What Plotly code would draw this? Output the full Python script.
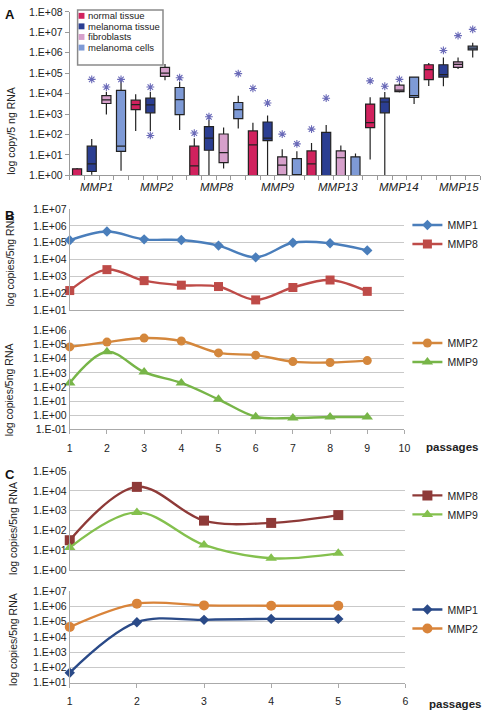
import plotly.graph_objects as go

W, H = 488, 716

# ---------------- Panel A data (box stats per series, categories in order) -------------
categories = ["MMP1", "MMP2", "MMP8", "MMP9", "MMP13", "MMP14", "MMP15"]
series_names = ["normal tissue", "melanoma tissue", "fibroblasts", "melanoma cells"]
series_colors = ["#d1225e", "#2b3e92", "#d6a0cb", "#7e9ad6"]

normal_q1 = [0.3, 1660, 0.3, 0.3, 0.3, 220, 4.9e4]
normal_median = [0.6, 2900, 2.9, 31, 3.7, 380, 1.5e5]
normal_q3 = [2.1, 4800, 27, 150, 15.7, 3100, 2.6e5]
normal_lower = [0.2, 147, 0.2, 0.2, 0.2, 6, 2.4e4]
normal_upper = [2.3, 9300, 66, 380, 38, 6700, 3.2e5]
normal_star = [None, None, 118, 1.8e4, 183, 4.2e4, None]

mtissue_q1 = [1.55, 1150, 17, 50, 0.3, 1150, 6.5e4]
mtissue_median = [3.7, 2800, 66, 66, 0.5, 3900, 8.5e4]
mtissue_q3 = [27, 6000, 246, 410, 127, 6000, 2.6e5]
mtissue_lower = [1.07, 150, 1.03, 1.0, 0.2, 1.0, 2.3e4]
mtissue_upper = [60, 1.25e4, 550, 860, 295, 1.2e4, 5.9e5]
mtissue_star = [5e4, 2.1e4, 740, 3500, 6000, 2.3e4, 1.3e6]
mtissue_star_low = [None, 90, None, None, None, None, None]

fibro_q1 = [3300, 7e4, 4.2, 1.07, 0.3, 1.25e4, 1.95e5]
fibro_median = [5000, 1e5, 13, 3.2, 7.3, 1.5e4, 2.7e5]
fibro_q3 = [7950, 1.95e5, 106, 8.1, 15.7, 2.6e4, 3.6e5]
fibro_lower = [950, 4.5e4, 2.2, 0.5, 0.2, 1.15e4, 1.6e5]
fibro_upper = [1.25e4, 2.8e5, 220, 19, 29, 3.2e4, 5.9e5]
fibro_star = [2.1e4, None, None, 105, None, 5e4, 6.9e6]

mcells_q1 = [15, 950, 600, 0.98, 0.3, 6500, 1.38e6]
mcells_median = [27, 5100, 1650, 1.0, 0.5, 8000, 1.7e6]
mcells_q3 = [1.45e4, 2e4, 3700, 6.7, 8.1, 6.5e4, 2.1e6]
mcells_lower = [1.7, 165, 200, 0.9, 0.2, 3100, 5.9e5]
mcells_upper = [4.2e4, 3.7e4, 8000, 15, 11.7, 6.7e4, 3.1e6]
mcells_star = [5e4, 6e4, 9.5e4, 35, None, None, 1.4e7]

# ---------------- Panel B data ----------------
passages_B = [1, 2, 3, 4, 5, 6, 7, 8, 9]
B_MMP1 = [1.4e5, 4.7e5, 1.6e5, 1.45e5, 6.8e4, 1.35e4, 1.0e5, 9.3e4, 3.5e4]
B_MMP8 = [141, 2500, 550, 295, 245, 39, 214, 600, 126]
B_MMP2 = [6.9e4, 1.5e5, 2.9e5, 1.8e5, 2.6e4, 1.8e4, 6300, 5400, 7400]
B_MMP9 = [195, 3.1e4, 1150, 195, 13.5, 0.8, 0.65, 0.76, 0.76]

# ---------------- Panel C data ----------------
passages_C = [1, 2, 3, 4, 5]
C_MMP8 = [33, 1.6e4, 320, 245, 610]
C_MMP9 = [14, 830, 19, 4.1, 7.2]
C_MMP1 = [45, 9.1e4, 1.3e5, 1.5e5, 1.5e5]
C_MMP2 = [4.4e4, 1.5e6, 1.15e6, 1.1e6, 1.1e6]


def px(p):
    return p / W


def py(p):
    return 1 - p / H


def log_ticks(lo, hi):
    vals = [10.0 ** k for k in range(lo, hi + 1)]
    text = ["1.E%s%02d" % ("+" if k >= 0 else "-", abs(k)) for k in range(lo, hi + 1)]
    return vals, text


FONT = "Liberation Sans, Arial, sans-serif"
TICKFONT = dict(family=FONT, size=10.5, color="#222")
GRID = "#c9c9c9"

fig = go.Figure()

# ---------------- Panel A boxes ----------------
box_stats = [
    (normal_q1, normal_median, normal_q3, normal_lower, normal_upper, normal_star),
    (mtissue_q1, mtissue_median, mtissue_q3, mtissue_lower, mtissue_upper, mtissue_star),
    (fibro_q1, fibro_median, fibro_q3, fibro_lower, fibro_upper, fibro_star),
    (mcells_q1, mcells_median, mcells_q3, mcells_lower, mcells_upper, mcells_star),
]
STAR = dict(symbol="asterisk-open", size=6.5, color="#6a6ab8",
            line=dict(color="#6a6ab8", width=1.1))
slot = 0.25
for j, (q1, med, q3, lo, hi, star) in enumerate(box_stats):
    pos = [i + (j - 1.5) * slot for i in range(len(categories))]
    fig.add_trace(go.Box(
        x=pos, q1=q1, median=med, q3=q3, lowerfence=lo, upperfence=hi,
        width=0.155, whiskerwidth=0, fillcolor=series_colors[j],
        line=dict(color="#222", width=1.2), name=series_names[j],
        showlegend=False, xaxis="x", yaxis="y", hoverinfo="skip",
    ))
    fig.add_trace(go.Scatter(
        x=pos, y=star, mode="markers", showlegend=False, xaxis="x", yaxis="y",
        marker=STAR, hoverinfo="skip",
    ))
    if j == 1:
        fig.add_trace(go.Scatter(
            x=pos, y=mtissue_star_low, mode="markers", showlegend=False,
            xaxis="x", yaxis="y", marker=STAR, hoverinfo="skip",
        ))


# ---------------- line traces ----------------
def line_trace(xs, ys, name, color, symbol, size, ax, legend, width=2.4):
    return go.Scatter(
        x=xs, y=ys, name=name, mode="lines+markers", xaxis="x" + ax, yaxis="y" + ax,
        line=dict(color=color, width=width, shape="spline", smoothing=1),
        marker=dict(symbol=symbol, size=size, color=color),
        legend=legend, cliponaxis=False, hoverinfo="skip",
    )


fig.add_trace(line_trace(passages_B, B_MMP1, "MMP1", "#4a7ebb", "diamond", 8, "2", "legend2"))
fig.add_trace(line_trace(passages_B, B_MMP8, "MMP8", "#be4b48", "square", 9, "2", "legend2"))
fig.add_trace(line_trace(passages_B, B_MMP2, "MMP2", "#d4873c", "circle", 9, "3", "legend3"))
fig.add_trace(line_trace(passages_B, B_MMP9, "MMP9", "#77b548", "triangle-up", 10, "3", "legend3"))
fig.add_trace(line_trace(passages_C, C_MMP8, "MMP8", "#8e3a38", "square", 10, "4", "legend4"))
fig.add_trace(line_trace(passages_C, C_MMP9, "MMP9", "#84c04e", "triangle-up", 10, "4", "legend4"))
fig.add_trace(line_trace(passages_C, C_MMP1, "MMP1", "#2a4a88", "diamond", 8, "5", "legend5"))
fig.add_trace(line_trace(passages_C, C_MMP2, "MMP2", "#d9843a", "circle", 10, "5", "legend5"))

# ---------------- axes ----------------
tvA, ttA = log_ticks(0, 8)
fig.update_layout(
    xaxis=dict(domain=[px(68), px(486)], range=[-0.5, 6.5], anchor="y",
               tickmode="array", tickvals=[-0.5 + 0.25 * k for k in range(29)],
               ticktext=[""] * 29, ticks="outside", ticklen=4, tickcolor="#999",
               showline=True, linecolor="#999", showgrid=False, zeroline=False),
    yaxis=dict(domain=[py(172.3), py(6)], type="log", range=[0, 8], anchor="x",
               tickmode="array", tickvals=tvA, ticktext=ttA, tickfont=TICKFONT,
               ticks="outside", ticklen=4, tickcolor="#999", showline=True,
               linecolor="#999", showgrid=False),
)

tv2, tt2 = log_ticks(1, 7)
tv3, tt3 = log_ticks(-1, 6)
tv4, tt4 = log_ticks(0, 5)
tv5, tt5 = log_ticks(1, 7)


def xline(domain, rng, anchor, labels):
    d = dict(domain=domain, range=rng, anchor=anchor, showgrid=False, zeroline=False,
             showline=True, linecolor="#aaa", tickfont=TICKFONT)
    if labels:
        d.update(tickmode="linear", tick0=1, dtick=1, ticks="outside", ticklen=4,
                 tickcolor="#aaa", ticklabelstandoff=5)
    else:
        d.update(showticklabels=False, ticks="")
    return d


def yline(domain, rng, anchor, tv, tt):
    return dict(domain=domain, type="log", range=rng, anchor=anchor, tickmode="array",
                tickvals=tv, ticktext=tt, tickfont=TICKFONT, showgrid=True,
                gridcolor=GRID, showline=True, linecolor="#aaa", ticks="")


fig.update_layout(
    xaxis2=xline([px(68), px(409)], [1, 10], "y2", False),
    yaxis2=yline([py(309), py(206.7)], [1, 7], "x2", tv2, tt2),
    xaxis3=xline([px(68), px(409)], [1, 10], "y3", True),
    yaxis3=yline([py(430.7), py(330)], [-1, 6], "x3", tv3, tt3),
    xaxis4=xline([px(68), px(410)], [1, 6], "y4", False),
    yaxis4=yline([py(574), py(473)], [0, 5], "x4", tv4, tt4),
    xaxis5=xline([px(68), px(410)], [1, 6], "y5", True),
    yaxis5=yline([py(688.3), py(595)], [1, 7], "x5", tv5, tt5),
)

LEGFONT = dict(family=FONT, size=10.5, color="#222")


def leg(ytop):
    return dict(x=px(412), y=py(ytop), xanchor="left", yanchor="top", font=LEGFONT,
                bgcolor="rgba(0,0,0,0)", borderwidth=0, tracegroupgap=0,
                itemwidth=30)


fig.update_layout(
    legend2=leg(208), legend3=leg(328), legend4=leg(483), legend5=leg(599),
)

# ---------------- Panel A manual legend ----------------
shapes = [dict(type="rect", xref="paper", yref="paper", x0=px(76), x1=px(163),
               y0=py(60), y1=py(4), line=dict(color="#8a8a8a", width=1.5),
               fillcolor="white", layer="above")]
annotations = []
leg_y = [10, 20.7, 31.5, 42.3]
for j, name in enumerate(series_names):
    shapes.append(dict(type="rect", xref="paper", yref="paper", x0=px(77), x1=px(83),
                       y0=py(leg_y[j] + 3), y1=py(leg_y[j] - 3),
                       line=dict(width=0), fillcolor=series_colors[j], layer="above"))
    annotations.append(dict(text=name, xref="paper", yref="paper", x=px(85), y=py(leg_y[j]),
                            xanchor="left", yanchor="middle", showarrow=False,
                            font=dict(family=FONT, size=9.5, color="#222")))

# category labels of panel A
label_pos = [-0.05 + 1.033 * i for i in range(len(categories))]
for i, c in enumerate(categories):
    annotations.append(dict(text="<i>%s</i>" % c, xref="x", yref="paper", x=label_pos[i],
                            y=py(184), xanchor="center", yanchor="middle", showarrow=False,
                            font=dict(family=FONT, size=11.5, color="#222")))

# y-axis titles
for txt, xc, yc in [("log copy/5 ng RNA", 8, 127), ("log copies/5ng RNA", 7, 258),
                    ("log copies/5ng RNA", 7, 390), ("log copies/5ng RNA", 10, 531),
                    ("log copies/5ng RNA", 10, 644)]:
    annotations.append(dict(text=txt, xref="paper", yref="paper", x=px(xc), y=py(yc),
                            textangle=-90, showarrow=False, xanchor="center", yanchor="middle",
                            font=dict(family=FONT, size=10.5, color="#222")))

# panel letters
for txt, xc, yc in [("A", 7, 9), ("B", 7, 213), ("C", 7, 476)]:
    annotations.append(dict(text="<b>%s</b>" % txt, xref="paper", yref="paper", x=px(xc),
                            y=py(yc), showarrow=False, xanchor="center", yanchor="middle",
                            font=dict(family=FONT, size=13, color="#111")))

# "passages" labels
for xc, yc in [(457, 449), (461, 710)]:
    annotations.append(dict(text="<b>passages</b>", xref="paper", yref="paper", x=px(xc),
                            y=py(yc), showarrow=False, xanchor="center", yanchor="middle",
                            font=dict(family=FONT, size=11.5, color="#222")))

fig.update_layout(
    width=W, height=H, margin=dict(l=0, r=0, t=0, b=0),
    paper_bgcolor="white", plot_bgcolor="white",
    shapes=shapes, annotations=annotations,
    boxmode="overlay",
)

fig.write_html(
    "out.html",
    config={"displayModeBar": False},
    post_script="document.body.style.margin='0';document.body.style.overflow='hidden';",
)
